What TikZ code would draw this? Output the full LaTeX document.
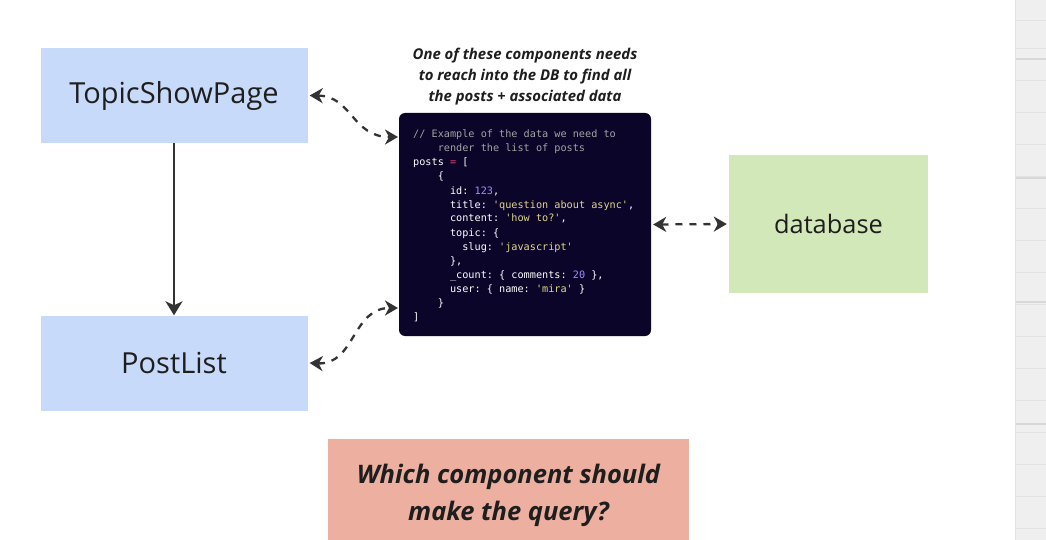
\documentclass[tikz,border=0pt]{standalone}
\usepackage{fontspec}
\setmainfont{Open Sans}
\setmonofont{DejaVu Sans Mono}
\usetikzlibrary{arrows.meta}
\definecolor{boxblue}{HTML}{C8DAF9}
\definecolor{boxgreen}{HTML}{D3E8B8}
\definecolor{boxpink}{HTML}{ECAFA0}
\definecolor{codebg}{HTML}{0B0529}
\definecolor{ink}{HTML}{1E1E1E}
\definecolor{arrowc}{HTML}{333333}
\definecolor{cmt}{HTML}{A3A3A3}
\definecolor{cnum}{HTML}{A08CFF}
\definecolor{cstr}{HTML}{E2D68C}
\definecolor{cop}{HTML}{E0457B}
\definecolor{stripbg}{HTML}{EFEFEF}
\definecolor{stripln}{HTML}{E2E2E2}
\definecolor{stripdk}{HTML}{D8D8D8}
\begin{document}
\begin{tikzpicture}[x=1pt,y=-1pt,
  comp/.style={draw=none,fill=boxblue,minimum width=267pt,minimum height=95pt,inner sep=0pt,text=ink,font=\fontsize{29}{34}\selectfont},
  codeline/.style={anchor=base west,inner sep=0pt,text=white,font=\ttfamily\fontsize{10.2}{14}\selectfont},
  dasharrow/.style={draw=arrowc,line width=2.3pt,dash pattern=on 7pt off 7pt,{Stealth[length=13pt,width=15pt,inset=4pt]}-{Stealth[length=13pt,width=15pt,inset=4pt]}},
  solidarrow/.style={draw=arrowc,line width=2.4pt,-{Stealth[length=14pt,width=17pt,inset=4pt]}}]
\useasboundingbox (0,0) rectangle (1046,540);
\fill[white] (0,0) rectangle (1046,540);
% right strip
\fill[stripbg] (1015,0) rectangle (1046,540);
\draw[stripln,line width=1pt] (1015.5,0) -- (1015.5,540);
\foreach \yy in {20,48,80,112,144,176,208,240,272,304,336,368,400,432,464,496,528}{
  \draw[stripln,line width=0.6pt] (1016,\yy) -- (1046,\yy);}
\foreach \yy in {59,178,302,424}{
  \draw[stripdk,line width=1.2pt] (1016,\yy) -- (1046,\yy);}

\node[comp] (tsp) at (174,95.5) {TopicShowPage};
\node[comp] (pl) at (174,363) {PostList};
\node[fill=boxgreen,minimum width=199pt,minimum height=138pt,inner sep=0pt,text=ink,font=\fontsize{25.4}{30}\selectfont] (db) at (828.5,224) {database};
\node[fill=codebg,rounded corners=6pt,minimum width=252pt,minimum height=223pt,inner sep=0pt] (code) at (525,224.5) {};
\node[fill=boxpink,minimum width=361pt,minimum height=101pt,inner sep=0pt,anchor=north west] (q) at (328,439) {};
\node[text=ink,font=\bfseries\itshape\fontsize{25.5}{37}\selectfont,align=center] (qt) at (508.5,495) {Which component should\\make the query?};
\node[text=ink,font=\bfseries\itshape\fontsize{14.9}{21}\selectfont,align=center] (cap) at (525,77) {One of these components needs\\to reach into the DB to find all\\the posts + associated data};

% code lines
\node[codeline,text=cmt] (l1) at (413,138) {// Example of the data we need to};
\node[codeline,text=cmt] (l2) at (413,152) {\ \ \ \ render the list of posts};
\node[codeline] (l3) at (413,166) {posts \textcolor{cop}{=} [};
\node[codeline] (l4) at (413,180) {\ \ \ \ \{};
\node[codeline] (l5) at (413,194) {\ \ \ \ \ \ id: \textcolor{cnum}{123},};
\node[codeline] (l6) at (413,208) {\ \ \ \ \ \ title: \textcolor{cstr}{'question about async'},};
\node[codeline] (l7) at (413,222) {\ \ \ \ \ \ content: \textcolor{cstr}{'how to?'},};
\node[codeline] (l8) at (413,236) {\ \ \ \ \ \ topic: \{};
\node[codeline] (l9) at (413,250) {\ \ \ \ \ \ \ \ slug: \textcolor{cstr}{'javascript'}};
\node[codeline] (l10) at (413,264) {\ \ \ \ \ \ \},};
\node[codeline] (l11) at (413,278) {\ \ \ \ \ \ \_count: \{ comments: \textcolor{cnum}{20} \},};
\node[codeline] (l12) at (413,292) {\ \ \ \ \ \ user: \{ name: \textcolor{cstr}{'mira'} \}};
\node[codeline] (l13) at (413,306) {\ \ \ \ \}};
\node[codeline] (l14) at (413,320) {]};

% connectors
\coordinate (ca) at (398,137);
\coordinate (cb) at (398,308);
\draw[solidarrow] (tsp.south) -- (pl.north);
\draw[dasharrow] ([xshift=2pt]tsp.east) .. controls (352,96) and (352,137) .. (ca);
\draw[dasharrow] ([xshift=2pt]pl.east) .. controls (355,365) and (352,308) .. (cb);
\draw[dasharrow] ([xshift=2pt]code.east) -- ([xshift=-2pt]db.west);
\end{tikzpicture}
\end{document}
